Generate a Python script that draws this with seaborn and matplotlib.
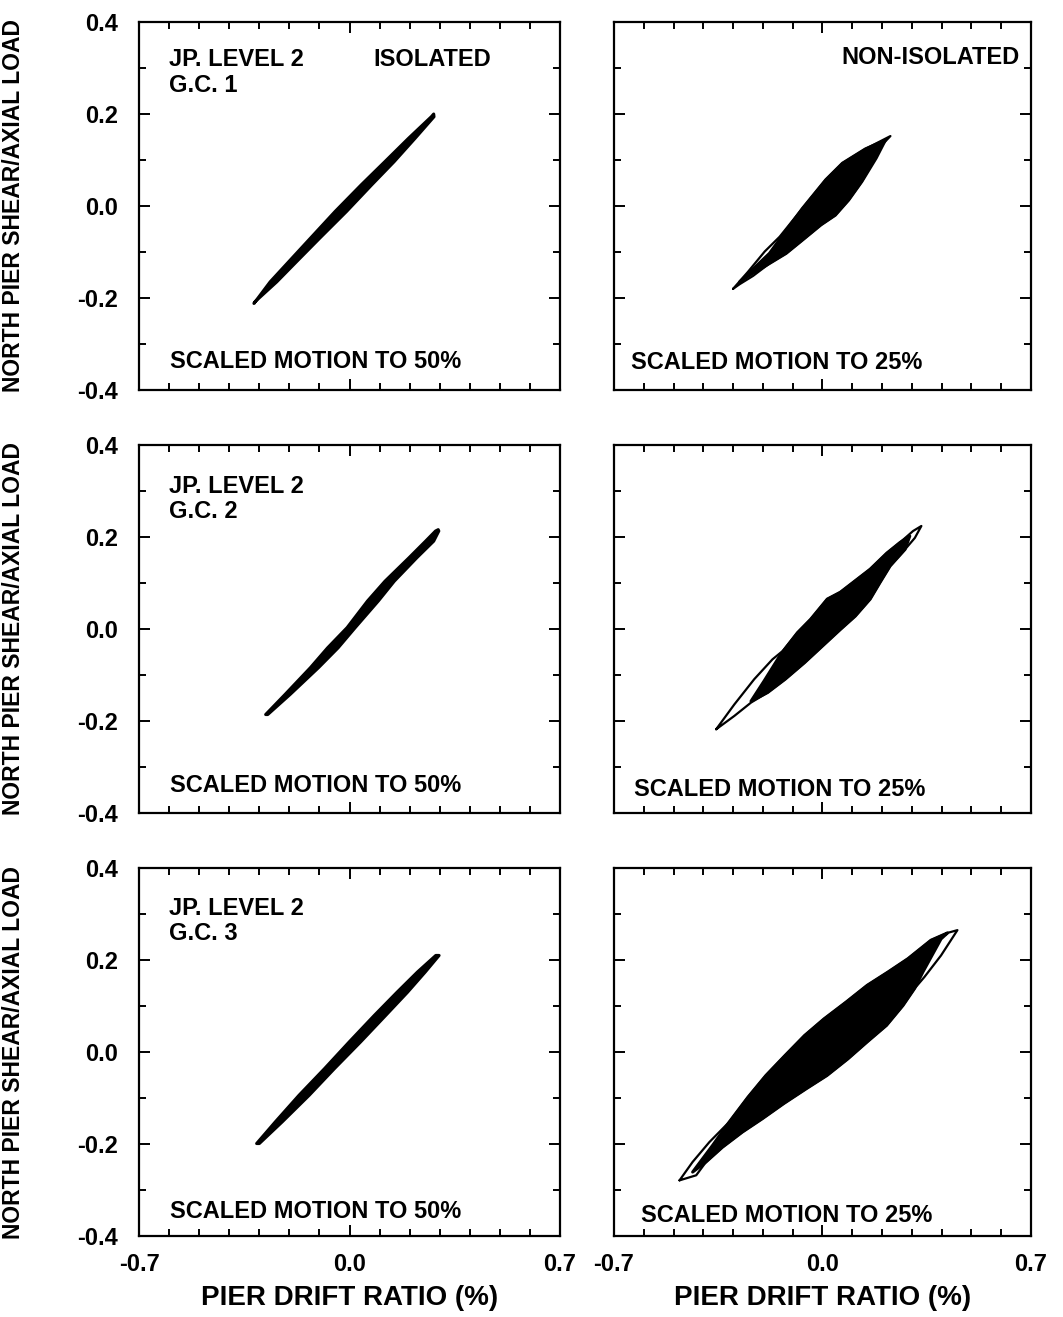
import matplotlib
matplotlib.use('Agg')
import matplotlib.pyplot as plt
import seaborn as sns
from matplotlib.ticker import MultipleLocator, FixedLocator, FormatStrFormatter

# isolated, G.C. 1 (closed outline of the band)
iso1_x = [-0.318, -0.264, -0.202, -0.130, -0.048, 0.039, 0.117, 0.196, 0.272, 0.280,
          0.281, 0.218, 0.148, 0.074, -0.010, -0.099, -0.176, -0.242, -0.314, -0.318]
iso1_y = [-0.212, -0.165, -0.121, -0.070, -0.012, 0.046, 0.096, 0.147, 0.194, 0.200,
          0.194, 0.147, 0.096, 0.046, -0.012, -0.070, -0.121, -0.165, -0.208, -0.212]

# isolated, G.C. 2
iso2_x = [-0.279, -0.214, -0.130, -0.073, -0.008, 0.060, 0.118, 0.198, 0.253, 0.286, 0.295,
          0.297, 0.280, 0.224, 0.149, 0.096, 0.019, -0.038, -0.103, -0.197, -0.272]
iso2_y = [-0.186, -0.142, -0.084, -0.041, 0.003, 0.061, 0.104, 0.155, 0.191, 0.213, 0.216,
          0.213, 0.191, 0.155, 0.104, 0.061, 0.003, -0.041, -0.084, -0.142, -0.186]

# isolated, G.C. 3
iso3_x = [-0.309, -0.247, -0.168, -0.083, -0.001, 0.083, 0.158, 0.226, 0.287,
          0.298, 0.252, 0.193, 0.121, 0.037, -0.050, -0.134, -0.224, -0.300]
iso3_y = [-0.199, -0.152, -0.094, -0.036, 0.022, 0.080, 0.130, 0.174, 0.210,
          0.210, 0.174, 0.130, 0.080, 0.022, -0.036, -0.094, -0.152, -0.199]

# non-isolated, G.C. 1: dense body + outer loop
non1_body_x = [-0.278, -0.178, -0.133, -0.067, 0.011, 0.067, 0.144, 0.211,
               0.180, 0.132, 0.088, 0.043, -0.005, -0.067, -0.122, -0.178, -0.233]
non1_body_y = [-0.165, -0.103, -0.063, -0.005, 0.057, 0.093, 0.124, 0.143,
               0.104, 0.053, 0.013, -0.020, -0.041, -0.074, -0.103, -0.125, -0.146]
non1_loop_x = [-0.300, -0.250, -0.194, -0.144, -0.067, 0.011, 0.067, 0.144, 0.228, 0.200, 0.163,
               0.132, 0.088, 0.043, -0.005, -0.067, -0.122, -0.178, -0.233, -0.278, -0.300]
non1_loop_y = [-0.180, -0.143, -0.099, -0.067, -0.005, 0.057, 0.093, 0.124, 0.152, 0.133, 0.089,
               0.053, 0.013, -0.020, -0.041, -0.074, -0.103, -0.125, -0.152, -0.170, -0.180]

# non-isolated, G.C. 2
non2_body_x = [-0.240, -0.196, -0.140, -0.084, -0.040, 0.016, 0.060, 0.116, 0.160, 0.216, 0.260, 0.293,
               0.277, 0.227, 0.193, 0.160, 0.110, 0.060, 0.000, -0.060, -0.125, -0.184]
non2_body_y = [-0.157, -0.113, -0.055, -0.008, 0.021, 0.065, 0.080, 0.108, 0.130, 0.165, 0.188, 0.202,
               0.173, 0.137, 0.101, 0.065, 0.028, -0.001, -0.037, -0.073, -0.109, -0.138]
non2_loop_x = [-0.357, -0.296, -0.229, -0.168, -0.134, -0.084, -0.040, 0.016, 0.060, 0.116, 0.160,
               0.216, 0.260, 0.304, 0.332, 0.310, 0.277, 0.227, 0.193, 0.160, 0.110, 0.060,
               0.000, -0.060, -0.125, -0.184, -0.240, -0.296, -0.357]
non2_loop_y = [-0.218, -0.164, -0.109, -0.066, -0.048, -0.008, 0.021, 0.065, 0.080, 0.108, 0.130,
               0.165, 0.188, 0.213, 0.224, 0.198, 0.173, 0.137, 0.101, 0.065, 0.028, -0.001,
               -0.037, -0.073, -0.109, -0.138, -0.160, -0.189, -0.218]

# non-isolated, G.C. 3
non3_body_x = [-0.436, -0.369, -0.313, -0.250, -0.190, -0.125, -0.060, 0.005, 0.080, 0.150, 0.220,
               0.287, 0.364, 0.420, 0.398, 0.337, 0.309, 0.270, 0.215, 0.150, 0.085, 0.015,
               -0.055, -0.130, -0.202, -0.269, -0.336, -0.391]
non3_body_y = [-0.261, -0.203, -0.152, -0.098, -0.051, -0.007, 0.036, 0.072, 0.109, 0.145, 0.174,
               0.203, 0.243, 0.259, 0.246, 0.174, 0.138, 0.101, 0.058, 0.022, -0.015, -0.051,
               -0.080, -0.112, -0.145, -0.174, -0.207, -0.239]
non3_loop_x = [-0.480, -0.436, -0.380, -0.313, -0.250, -0.190, -0.125, -0.060, 0.005, 0.080, 0.150,
               0.220, 0.287, 0.364, 0.420, 0.453, 0.398, 0.342, 0.309, 0.270, 0.215, 0.150, 0.085,
               0.015, -0.055, -0.130, -0.202, -0.269, -0.336, -0.391, -0.424, -0.480]
non3_loop_y = [-0.279, -0.239, -0.196, -0.152, -0.098, -0.051, -0.007, 0.036, 0.072, 0.109, 0.145,
               0.174, 0.203, 0.243, 0.259, 0.265, 0.210, 0.163, 0.138, 0.101, 0.058, 0.022, -0.015,
               -0.051, -0.080, -0.112, -0.145, -0.174, -0.207, -0.239, -0.268, -0.279]

x_ticks = [-0.7, 0.0, 0.7]
y_ticks = [-0.4, -0.2, 0.0, 0.2, 0.4]
gc_labels = ['G.C. 1', 'G.C. 2', 'G.C. 3']
scaled_iso = 'SCALED MOTION TO 50%'
scaled_non = 'SCALED MOTION TO 25%'


def style_axes(ax, left_col, bottom_row):
    ax.set_xlim(-0.7, 0.7)
    ax.set_ylim(-0.4, 0.4)
    ax.xaxis.set_major_locator(FixedLocator(x_ticks))
    ax.yaxis.set_major_locator(FixedLocator(y_ticks))
    ax.xaxis.set_minor_locator(MultipleLocator(0.1))
    ax.yaxis.set_minor_locator(MultipleLocator(0.1))
    ax.xaxis.set_major_formatter(FormatStrFormatter('%.1f'))
    ax.yaxis.set_major_formatter(FormatStrFormatter('%.1f'))
    ax.tick_params(which='both', direction='in', top=True, right=True, width=1.4,
                   color='black', labelcolor='black')
    ax.tick_params(which='major', length=8)
    ax.tick_params(which='minor', length=5)
    ax.tick_params(axis='y', labelsize=17, pad=15, labelleft=left_col)
    ax.tick_params(axis='x', labelsize=17, pad=12, labelbottom=bottom_row)
    for s in ax.spines.values():
        s.set_visible(True)
        s.set_linewidth(1.6)
        s.set_color('black')
    ax.set_xlabel('')
    ax.set_ylabel('')
    if left_col:
        ax.set_ylabel('NORTH PIER SHEAR/AXIAL LOAD', fontsize=16.5, fontweight='bold', color='black')
        ax.yaxis.set_label_coords(-0.27, 0.5)
    if bottom_row:
        ax.set_xlabel('PIER DRIFT RATIO (%)', fontsize=20, fontweight='bold', labelpad=7, color='black')


def draw_band(ax, xs, ys):
    ax.fill(xs, ys, facecolor='black', edgecolor='black', lw=2.2, joinstyle='round')


def draw_loop(ax, body_x, body_y, loop_x, loop_y):
    sns.lineplot(x=loop_x, y=loop_y, sort=False, estimator=None, color='black', linewidth=1.6, ax=ax)
    ax.fill(body_x, body_y, facecolor='black', edgecolor='black', lw=2.2, joinstyle='round')


def put(ax, x, y, s, ha='left'):
    ax.text(x, y, s, transform=ax.transAxes, ha=ha, va='top', fontsize=17,
            fontweight='bold', color='black')


def main():
    sns.set_theme(style='ticks')
    plt.rcParams['font.family'] = ['Liberation Sans', 'DejaVu Sans']
    plt.rcParams['font.weight'] = 'bold'
    plt.rcParams['axes.unicode_minus'] = False
    plt.rcParams['text.color'] = 'black'

    fig = plt.figure(figsize=(10.63, 13.17), dpi=100)
    lefts = [0.1308, 0.5776]
    widths = [0.396, 0.3923]
    bottoms = [0.7039, 0.3827, 0.0615]
    height = 0.2794

    iso = [(iso1_x, iso1_y), (iso2_x, iso2_y), (iso3_x, iso3_y)]
    non = [(non1_body_x, non1_body_y, non1_loop_x, non1_loop_y),
           (non2_body_x, non2_body_y, non2_loop_x, non2_loop_y),
           (non3_body_x, non3_body_y, non3_loop_x, non3_loop_y)]
    iso_text_y = [0.109, 0.107, 0.099]
    non_text = [(0.040, 0.105), (0.049, 0.096), (0.064, 0.086)]
    jp_y = [0.928, 0.919, 0.920]

    for r in range(3):
        ax = fig.add_axes([lefts[0], bottoms[r], widths[0], height])
        draw_band(ax, *iso[r])
        style_axes(ax, True, r == 2)
        put(ax, 0.070, jp_y[r], 'JP. LEVEL 2')
        put(ax, 0.070, jp_y[r] - 0.068, gc_labels[r])
        put(ax, 0.073, iso_text_y[r], scaled_iso)
        if r == 0:
            put(ax, 0.557, 0.928, 'ISOLATED')

        ax = fig.add_axes([lefts[1], bottoms[r], widths[1], height])
        draw_loop(ax, *non[r])
        style_axes(ax, False, r == 2)
        put(ax, non_text[r][0], non_text[r][1], scaled_non)
        if r == 0:
            put(ax, 0.972, 0.935, 'NON-ISOLATED', ha='right')

    fig.savefig('out.png', dpi=100)


if __name__ == '__main__':
    main()
